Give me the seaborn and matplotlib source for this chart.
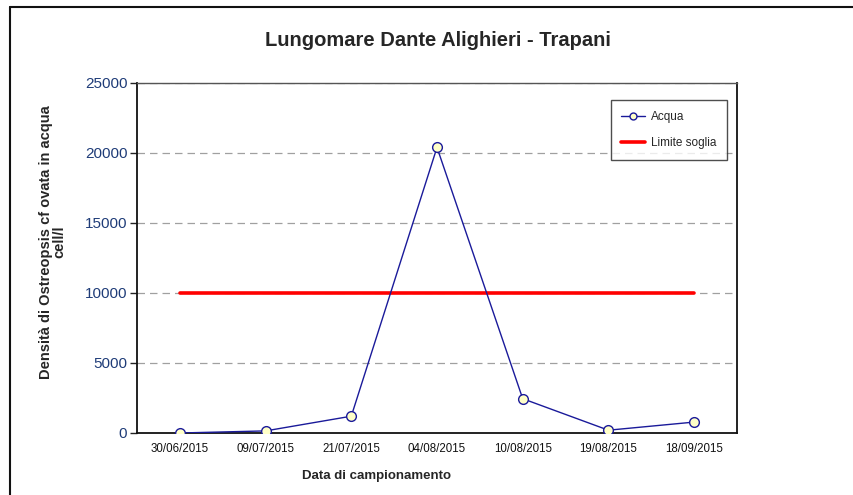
import matplotlib
matplotlib.use("Agg")
import matplotlib.pyplot as plt
import seaborn as sns
import pandas as pd
from matplotlib.lines import Line2D

dates = ["30/06/2015", "09/07/2015", "21/07/2015", "04/08/2015",
         "10/08/2015", "19/08/2015", "18/09/2015"]
acqua = [0, 150, 1200, 20400, 2450, 200, 780]
soglia = [10000] * len(dates)
y_ticks = [0, 5000, 10000, 15000, 20000, 25000]

sns.set_theme(style="white")
plt.rcParams["font.family"] = ["Liberation Sans Narrow", "Liberation Sans", "DejaVu Sans"]

df = pd.DataFrame({"pos": range(len(dates)), "Acqua": acqua, "Limite soglia": soglia})

fig = plt.figure(figsize=(8.54, 4.95), dpi=100)
ax = fig.add_axes([137 / 854, 1 - 433 / 495, 600 / 854, 350 / 495])

for y in y_ticks[1:]:
    ax.axhline(y, color="#a0a0a0", lw=0.9, ls=(0, (6, 4)), zorder=0)

sns.lineplot(data=df, x="pos", y="Limite soglia", ax=ax, color="#ff0000",
             lw=2.6, label="Limite soglia", zorder=2)
sns.lineplot(data=df, x="pos", y="Acqua", ax=ax, color="#1a1a9a", lw=1.0,
             marker="o", markersize=7, markerfacecolor="#ffffc8",
             markeredgecolor="#1a1a9a", markeredgewidth=1.0, label="Acqua", zorder=3)

ax.set_xlim(-0.5, len(dates) - 0.5)
ax.set_ylim(0, 25000)
ax.set_xticks(range(len(dates)))
ax.set_xticklabels(dates, fontsize=8.3, color="#111111")
ax.set_yticks(y_ticks)
ax.set_yticklabels([str(v) for v in y_ticks], fontsize=11, color="#1f3c78")
ax.tick_params(axis="y", direction="out", length=5, width=1, color="#222222", pad=2, left=True)
ax.tick_params(axis="x", length=0, pad=7)

for side in ["left", "bottom", "right"]:
    ax.spines[side].set_color("#111111")
    ax.spines[side].set_linewidth(1.3)
ax.spines["top"].set_color("#555555")
ax.spines["top"].set_linewidth(1.0)

ax.set_xlabel("Data di campionamento", fontsize=9.5, fontweight="bold")
ax.xaxis.set_label_coords((377 - 137) / 600, -(476 - 433) / 350)
ax.xaxis.label.set_va("center")
ax.set_ylabel("Densità di Ostreopsis cf ovata in acqua\ncell/l", fontsize=10.5,
              fontweight="bold", linespacing=0.95)
ax.yaxis.set_label_coords((53 - 137) / 600, (433 - 242) / 350)
ax.yaxis.label.set_va("center")

fig.text(438 / 854, 1 - 41 / 495, "Lungomare Dante Alighieri - Trapani", ha="center",
         va="center", fontsize=14.5, fontweight="bold")

handles, labels = ax.get_legend_handles_labels()
order = [labels.index("Acqua"), labels.index("Limite soglia")]
leg = ax.legend([handles[i] for i in order], [labels[i] for i in order],
                loc="upper right", bbox_to_anchor=(0.983, 0.951), fontsize=8.5,
                frameon=True, fancybox=False, edgecolor="#222222",
                borderpad=0.9, labelspacing=1.2, handlelength=2.0, handletextpad=0.5,
                borderaxespad=0)
leg.get_frame().set_linewidth(1.0)
leg.legend_handles[0].set_markersize(5)

# outer frame lines (top and left)
fig.add_artist(Line2D([10 / 854, 1], [1 - 7 / 495, 1 - 7 / 495], color="#111111", lw=1.5,
                      transform=fig.transFigure))
fig.add_artist(Line2D([10 / 854, 10 / 854], [0, 1 - 7 / 495], color="#111111", lw=1.5,
                      transform=fig.transFigure))

fig.savefig("out.png", dpi=100, facecolor="white")
